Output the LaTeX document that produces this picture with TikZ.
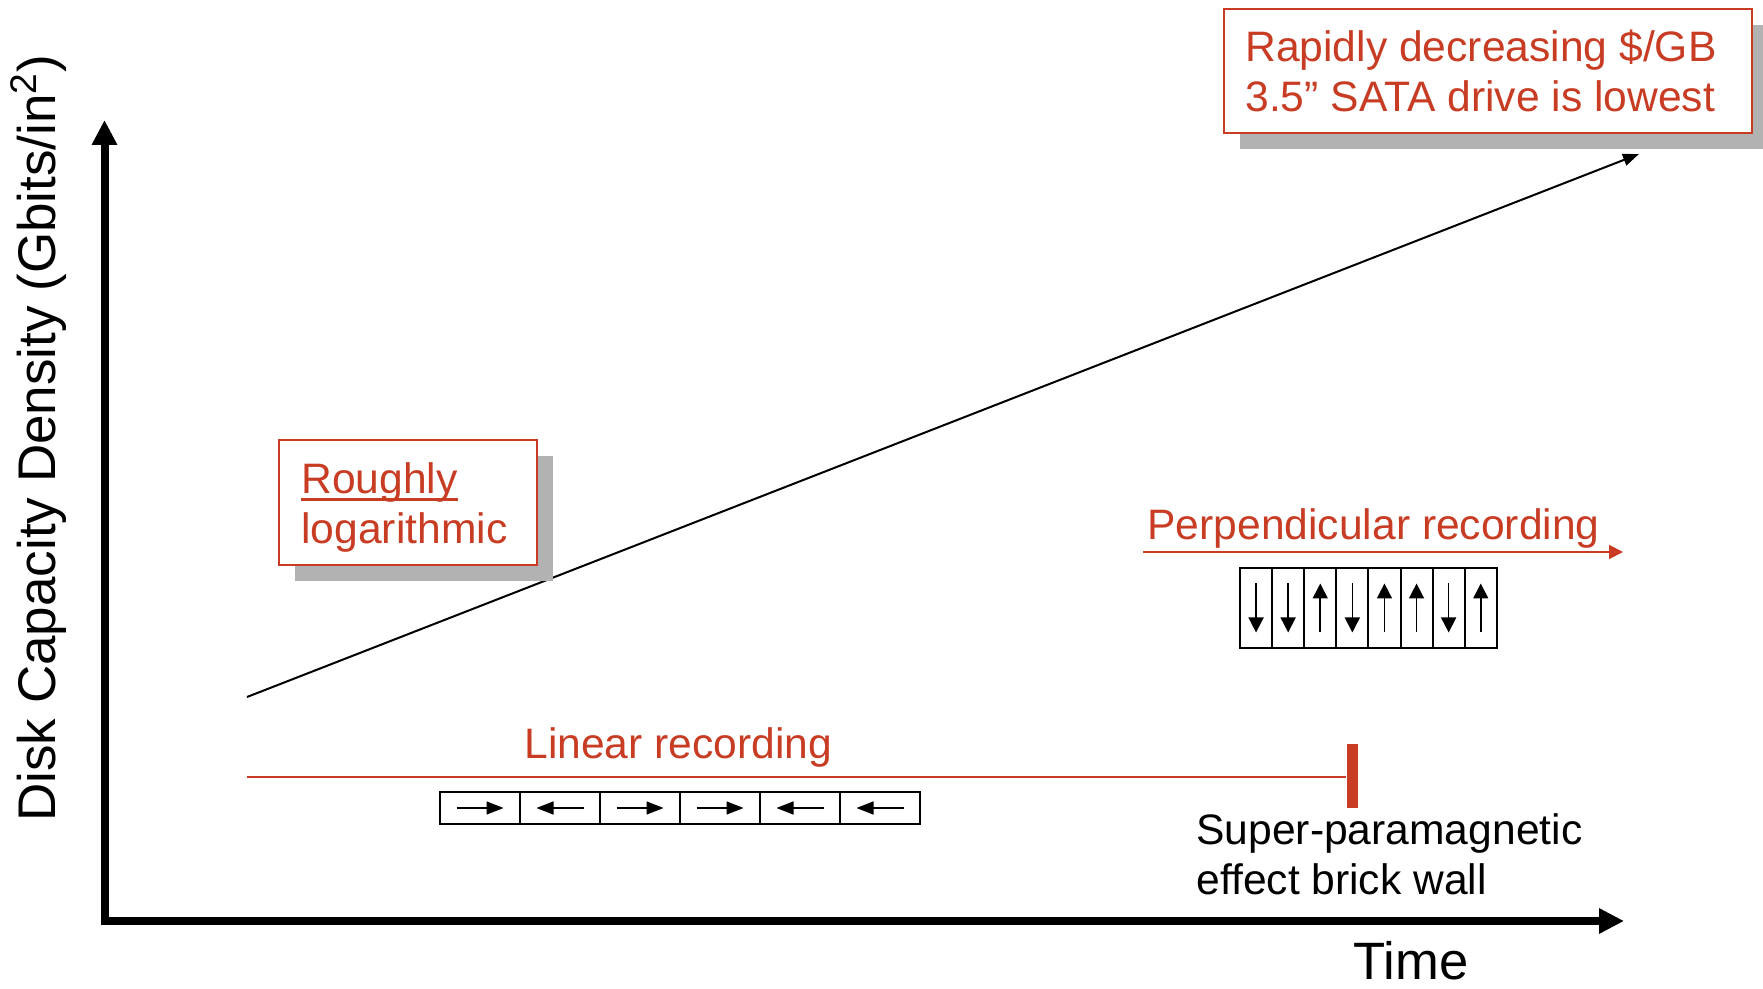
\documentclass[tikz,border=0pt]{standalone}
\usepackage{fontspec}
\setmainfont{Liberation Sans}
\usetikzlibrary{arrows.meta,shadows,calc}
\definecolor{slidered}{RGB}{200,60,36}
\definecolor{shadowgray}{RGB}{178,178,178}
\begin{document}
\begin{tikzpicture}[x=0.5pt,y=-0.5pt,
  redlabel/.style={text=slidered, font=\fontsize{21.3pt}{25pt}\selectfont, inner sep=0pt, anchor=base west},
  blacklabel/.style={text=black, font=\fontsize{21.3pt}{25pt}\selectfont, inner sep=0pt, anchor=base west},
  notebox/.style={draw=slidered, line width=1pt, fill=white, inner sep=0pt,
    general shadow={fill=shadowgray, shadow xshift=8pt, shadow yshift=-8pt}},
  axis/.style={line width=4pt, -{Triangle[length=12.5pt,width=12pt]}},
  cell/.style={draw, line width=1pt, inner sep=0pt, outer sep=0pt},
  vcell/.style={cell, minimum width=16.05pt, minimum height=40.3pt},
  hcell/.style={cell, minimum width=40pt, minimum height=16pt},
  varrow/.style={line width=0.8pt, -{Triangle[length=7.5pt,width=7.5pt]}},
  harrow/.style={line width=0.8pt, -{Triangle[length=8.5pt,width=6.5pt]}},
  redline/.style={draw=slidered, line width=1pt},
]
\useasboundingbox (0,0) rectangle (1763,989);

% axes
\coordinate (ybase) at (104.5,925);
\coordinate (ytop) at (104.5,120);
\coordinate (xbase) at (100.5,921);
\coordinate (xend) at (1624,921);
\draw[axis] (ybase) -- (ytop);
\draw[axis] (xbase) -- (xend);

\node[font=\fontsize{26.5pt}{30pt}\selectfont, rotate=90, anchor=base west, inner sep=0pt]
  (ylabel) at (55,822) {Disk Capacity Density (Gbits/in\textsuperscript{2})};
\node[font=\fontsize{26.3pt}{30pt}\selectfont, anchor=base west, inner sep=0pt]
  (time) at (1353,979) {Time};

% density trend
\coordinate (trendstart) at (247,697);
\coordinate (trendend) at (1639,154);
\draw[line width=1pt, -{Triangle[length=8pt,width=6pt]}] (trendstart) -- (trendend);

% cost note
\node[notebox, minimum width=264pt, minimum height=62pt] (ratebox) at (1488,71) {};
\node[redlabel] (rate1) at (1245,62) {Rapidly decreasing \$/GB};
\node[redlabel] (rate2) at (1245,112) {3.5” SATA drive is lowest};

% growth note
\node[notebox, minimum width=129pt, minimum height=62.5pt] (trendbox) at (408,502.5) {};
\node[redlabel] (trend1) at (301,494) {Roughly};
\draw[slidered, line width=1.5pt] ([yshift=-2.6pt]trend1.base west) -- ([yshift=-2.6pt]trend1.base east);
\node[redlabel] (trend2) at (301,544) {logarithmic};

% perpendicular recording
\node[redlabel] (perplabel) at (1147,540) {Perpendicular recording};
\coordinate (perpstart) at (1143,552);
\coordinate (perpend) at (1623,552);
\draw[redline, -{Triangle[length=7pt,width=7pt]}] (perpstart) -- (perpend);
\foreach \d [count=\i] in {1,1,-1,1,-1,-1,1,-1} {
  \node[vcell] (v\i) at ({1256.05+32.1*(\i-1)},608) {};
  \draw[varrow] ($(v\i.center)+(0,{0-24.5*(\d)})$) -- ($(v\i.center)+(0,{24.5*(\d)})$);
}

% linear recording
\node[redlabel] (linlabel) at (524,758) {Linear recording};
\coordinate (linstart) at (247,776.5);
\node[fill=slidered, inner sep=0pt, minimum width=5.8pt, minimum height=32pt] (wall) at (1352.5,776) {};
\draw[redline] (linstart) -- (linstart -| wall.west);
\foreach \d [count=\i] in {1,-1,1,1,-1,-1} {
  \node[hcell] (h\i) at ({480+80*(\i-1)},808) {};
  \draw[harrow] ($(h\i.center)+({0-23.5*(\d)},0)$) -- ($(h\i.center)+({23.5*(\d)},0)$);
}

\node[blacklabel] (wall1) at (1196,844) {Super-paramagnetic};
\node[blacklabel] (wall2) at (1196,894) {effect brick wall};
\end{tikzpicture}
\end{document}
